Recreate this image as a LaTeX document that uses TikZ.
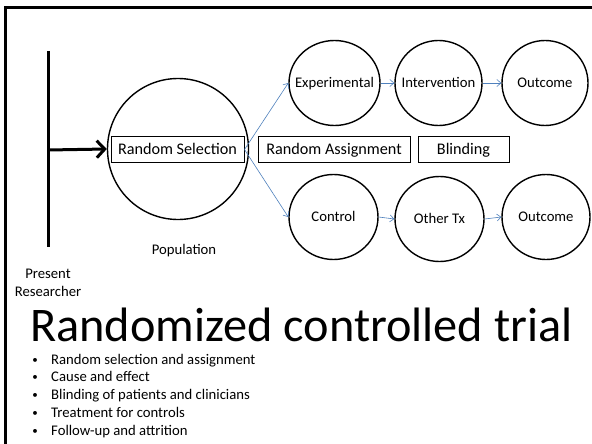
\documentclass[tikz,border=0pt]{standalone}
\usepackage{fontspec}
\setmainfont{Carlito}
\usetikzlibrary{arrows.meta,shapes.geometric}
\definecolor{linkblue}{RGB}{79,129,189}
\tikzset{
  stage/.style={draw, line width=1.4pt, ellipse, inner sep=0pt,
    minimum width=89pt, minimum height=85pt,
    label={[stagetext]center:#1}},
  stagetext/.style={inner sep=0pt, text height=9.5pt, text depth=0pt,
    font=\fontsize{14.7}{16}\selectfont},
  tagbox/.style={draw, line width=1pt, rectangle, inner sep=0pt,
    minimum height=26pt, text height=10.5pt, text depth=0pt,
    font=\fontsize{16.2}{18}\selectfont},
  caption/.style={font=\fontsize{14.7}{17}\selectfont, inner sep=0pt},
  flow/.style={draw=linkblue, line width=0.6pt, -{Straight Barb[length=4pt,width=7pt]}},
  item/.style={font=\fontsize{14.7}{17}\selectfont, inner sep=0pt, anchor=base west},
  dot/.style={font=\fontsize{11}{17}\selectfont, inner sep=0pt, anchor=base}
}
\begin{document}
\begin{tikzpicture}[x=1pt,y=-1pt]
\useasboundingbox (0,0) rectangle (592,444);
\fill[white] (0,0) rectangle (592,444);

% slide frame (top and left edges)
\draw[line width=3.6pt] (5.5,450) -- (5.5,7.5) -- (600,7.5);

% timeline of the present researcher
\coordinate (tlTop) at (48,51);
\coordinate (tlBot) at (48,247);
\coordinate (tlMid) at (48,150);
\draw[line width=3pt] (tlTop) -- (tlBot);

% population
\node[draw, circle, line width=1.4pt, minimum size=141pt, inner sep=0pt] (pop) at (178,149) {};
\node[tagbox, minimum width=133pt] (rs) at (177.5,149.5) {Random Selection};
\node[tagbox, minimum width=152pt] (ra) at (334,149) {Random Assignment};
\node[tagbox, minimum width=91pt] (bl) at (463.5,149) {Blinding};

\draw[line width=3pt, -{Straight Barb[length=8pt,width=17pt]}] (tlMid) -- (pop.west);

% experimental arm
\node[stage=Experimental, minimum width=91pt] (exp) at (334.5,83) {};
\node[stage=Intervention, minimum width=87pt] (int) at (438.5,83) {};
\node[stage=Outcome, minimum width=86pt] (out1) at (545,83) {};

% control arm
\node[stage=Control] (ctl) at (333.5,217) {};
\node[stage=Other Tx] (oth) at (439.5,219) {};
\node[stage=Outcome, minimum width=88pt] (out2) at (546,217) {};

% connectors
\draw[flow] (rs.east) -- (exp.west);
\draw[flow] (rs.east) -- (ctl.west);
\draw[flow] (exp.east) -- (int.west);
\draw[flow] (int.east) -- (out1.west);
\draw[flow] (ctl.east) -- (oth.west);
\draw[flow] (oth.east) -- (out2.west);

% captions
\node[caption, anchor=base] (popl) at (184,254) {Population};
\node[caption, anchor=base] (pres) at (48,278) {Present};
\node[caption, anchor=base] (resr) at (48,296) {Researcher};

% title
\node[inner sep=0pt, anchor=base west, font=\fontsize{48.3}{50}\selectfont] (title) at (30,341) {Randomized controlled trial};

% bullet list
\foreach \t [count=\i] in {Random selection and assignment, Cause and effect, Blinding of patients and clinicians, Treatment for controls, Follow-up and attrition}{
  \node[dot] (b\i) at (35,{363+17.8*(\i-1)}) {•};
  \node[item] (t\i) at (51,{364+17.8*(\i-1)}) {\t};
}
\end{tikzpicture}
\end{document}
